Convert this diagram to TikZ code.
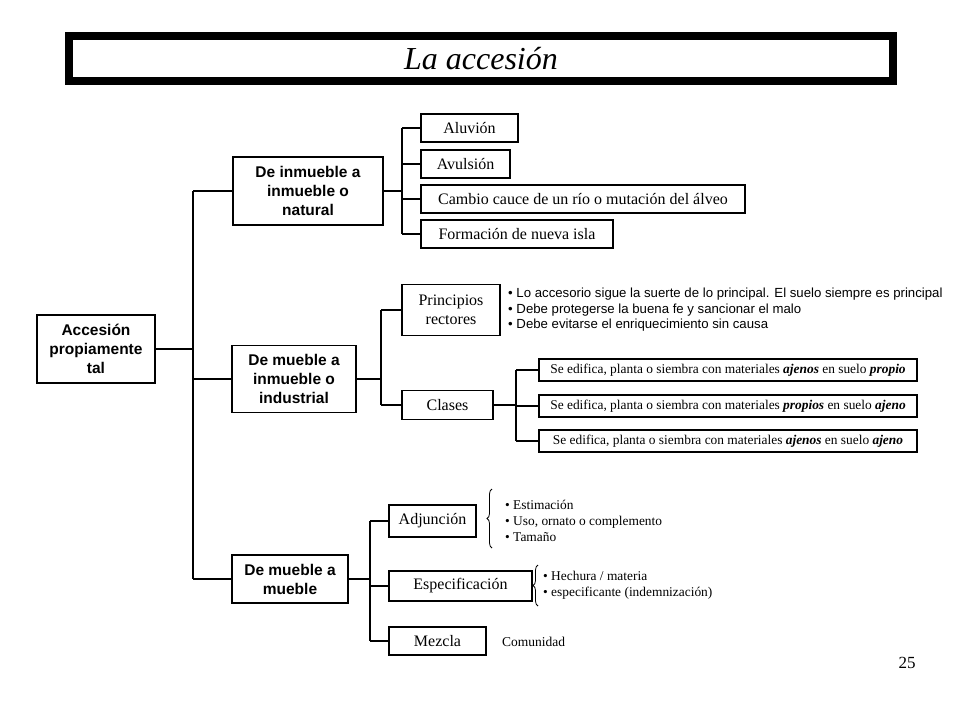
\documentclass[tikz,border=0pt]{standalone}
\usepackage{fontspec}
\setmainfont{Liberation Serif}
\setsansfont{Liberation Sans}
\usetikzlibrary{decorations.pathreplacing}
\tikzset{
  caja/.style={draw,line width=1.2pt,inner sep=0pt,align=center},
  rama/.style={caja,font=\sffamily\bfseries\fontsize{15.5}{19}\selectfont},
  hoja/.style={caja,minimum height=28pt,font=\fontsize{16}{19}\selectfont},
  clase/.style={caja,minimum width=378pt,minimum height=22pt,font=\fontsize{13.4}{15}\selectfont},
  lista/.style={anchor=west,align=left,inner sep=0pt},
  linea/.style={line width=1.5pt},
  llave/.style={decorate,decoration={brace,amplitude=5pt},line width=0.8pt}
}
\newcommand{\bi}[1]{\textbf{\textit{#1}}}
\begin{document}
\begin{tikzpicture}[x=1pt,y=-1pt]
  \useasboundingbox (0,0) rectangle (960,720);

  % titulo
  \node[caja,line width=8pt,minimum width=824pt,minimum height=45pt,
        font=\itshape\fontsize{32}{38}\selectfont] (titulo) at (481,58.5) {La accesión};

  % ramas principales
  \node[rama,minimum width=118pt,minimum height=68pt] (raiz) at (96,349) {Accesión\\propiamente\\tal};
  \node[rama,minimum width=150pt,minimum height=68pt] (inm) at (308,191) {De inmueble a\\inmueble o\\natural};
  \node[rama,minimum width=124pt,minimum height=67pt] (mueinm) at (294,379) {De mueble a\\inmueble o\\industrial};
  \node[rama,minimum width=116pt,minimum height=48pt] (mue) at (290,579) {De mueble a\\mueble};

  % de inmueble a inmueble
  \node[hoja,minimum width=97pt] (aluvion) at (469.5,128) {Aluvión};
  \node[hoja,minimum width=89pt] (avulsion) at (465.5,164) {Avulsión};
  \node[hoja,minimum width=324pt] (cambio) at (583,199) {Cambio cauce de un río o mutación del álveo};
  \node[hoja,minimum width=192pt] (isla) at (517,234) {Formación de nueva isla};

  % de mueble a inmueble
  \node[hoja,minimum width=98pt,minimum height=51pt] (princ) at (451,310) {Principios\\rectores};
  \node[hoja,minimum width=91pt,minimum height=29pt] (clases) at (447.5,405) {Clases};
  \node[lista,font=\sffamily\fontsize{13.2}{15.5}\selectfont] (reglas) at (508,310)
    {• Lo accesorio sigue la suerte de lo principal. El suelo siempre es principal\\
     • Debe protegerse la buena fe y sancionar el malo\\
     • Debe evitarse el enriquecimiento sin causa};
  \node[clase] (clase1) at (728,370) {Se edifica, planta o siembra con materiales \bi{ajenos} en suelo \bi{propio}};
  \node[clase] (clase2) at (728,406) {Se edifica, planta o siembra con materiales \bi{propios} en suelo \bi{ajeno}};
  \node[clase] (clase3) at (728,441) {Se edifica, planta o siembra con materiales \bi{ajenos} en suelo \bi{ajeno}};

  % de mueble a mueble
  \node[hoja,minimum width=87pt,minimum height=32pt] (adjuncion) at (432.5,521) {Adjunción};
  \node[hoja,minimum width=143pt,minimum height=30pt] (especif) at (460.5,586) {Especificación};
  \node[hoja,minimum width=97pt] (mezcla) at (437.5,641) {Mezcla};
  \node[lista,font=\fontsize{13.4}{16}\selectfont] (criterios) at (505,521)
    {• Estimación\\ • Uso, ornato o complemento\\ • Tamaño};
  \node[lista,font=\fontsize{13.4}{16}\selectfont] (hechura) at (543,585)
    {• Hechura / materia\\ • especificante (indemnización)};
  \node[anchor=west,inner sep=0pt,font=\fontsize{13.5}{15}\selectfont] (comun) at (502,642) {Comunidad};
  \draw[llave] (492,548) -- (492,489);
  \draw[llave] (538,606) -- (538,565);

  \node[font=\fontsize{17}{20}\selectfont] (pagina) at (907,663) {25};

  % conectores
  \coordinate (j1) at (193,349);
  \coordinate (j2) at (402,191);
  \coordinate (j3) at (381,379);
  \coordinate (j4) at (516,405);
  \coordinate (j5) at (370,579);

  \draw[linea] (raiz.east) -- (j1);
  \draw[linea] (j1 |- inm.west) -- (j1 |- mue.west);
  \foreach \n in {inm,mueinm,mue} \draw[linea] (j1 |- \n.west) -- (\n.west);

  \draw[linea] (inm.east) -- (j2);
  \draw[linea] (j2 |- aluvion.west) -- (j2 |- isla.west);
  \foreach \n in {aluvion,avulsion,cambio,isla} \draw[linea] (j2 |- \n.west) -- (\n.west);

  \draw[linea] (mueinm.east) -- (j3);
  \draw[linea] (j3 |- princ.west) -- (j3 |- clases.west);
  \foreach \n in {princ,clases} \draw[linea] (j3 |- \n.west) -- (\n.west);

  \draw[linea] (clases.east) -- (j4);
  \draw[linea] (j4 |- clase1.west) -- (j4 |- clase3.west);
  \foreach \n in {clase1,clase2,clase3} \draw[linea] (j4 |- \n.west) -- (\n.west);

  \draw[linea] (mue.east) -- (j5);
  \draw[linea] (j5 |- adjuncion.west) -- (j5 |- mezcla.west);
  \foreach \n in {adjuncion,especif,mezcla} \draw[linea] (j5 |- \n.west) -- (\n.west);
\end{tikzpicture}
\end{document}
